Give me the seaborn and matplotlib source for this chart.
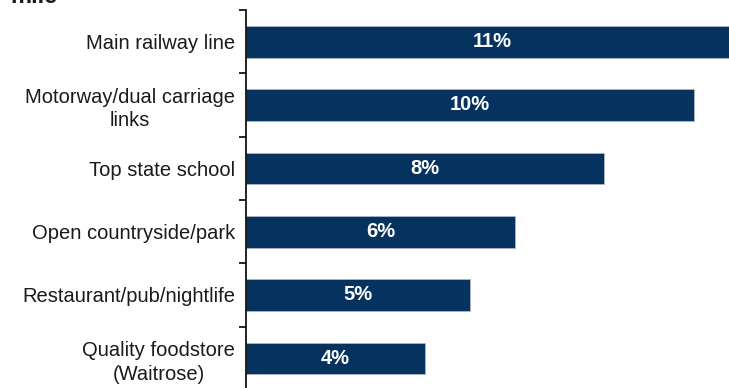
import matplotlib
matplotlib.use("Agg")
import matplotlib.pyplot as plt
import seaborn as sns
import pandas as pd
import numpy as np

categories = [
    "Main railway line",
    "Motorway/dual carriage\nlinks",
    "Top state school",
    "Open countryside/park",
    "Restaurant/pub/nightlife",
    "Quality foodstore\n(Waitrose)",
]
values = [11, 10, 8, 6, 5, 4]
value_labels = ["11%", "10%", "8%", "6%", "5%", "4%"]
title_fragment = "mile"

BAR_COLOR = "#06325f"

sns.set_theme(style="white")
plt.rcParams["font.family"] = ["Liberation Sans", "DejaVu Sans"]

W, H = 729, 388
fig = plt.figure(figsize=(W / 100, H / 100), dpi=100)
fig.patch.set_facecolor("white")

# axes: left spine at x=246 px, categories span y=10..390 px; the longest bar runs off the right edge
left_px, top_px, bottom_px = 246, 10, 390
px_per_unit = 44.8
xmax = (W - left_px) / px_per_unit
ax = fig.add_axes([left_px / W, (H - bottom_px) / H,
                   (W - left_px) / W, (bottom_px - top_px) / H])
ax.set_facecolor("white")

df = pd.DataFrame({"category": categories, "value": values})
sns.barplot(data=df, x="value", y="category", orient="h", color=BAR_COLOR,
            width=0.5, saturation=1, edgecolor="#a9b3bf", linewidth=0.7, ax=ax)

ax.set_xlim(0, xmax)
ax.set_ylim(len(categories) - 0.5, -0.5)
ax.set_xlabel("")
ax.set_ylabel("")
ax.set_xticks([])

for s in ["top", "right", "bottom"]:
    ax.spines[s].set_visible(False)
ax.spines["left"].set_color("black")
ax.spines["left"].set_linewidth(1.2)

# category labels at bar centres, tick marks at category boundaries
ax.set_yticks(np.arange(len(categories)))
ax.set_yticklabels(categories, fontsize=14.5, color="#1a1a1a",
                   multialignment="center", linespacing=1.3)
ax.tick_params(axis="y", which="major", length=0, pad=8)
ax.set_yticks(np.arange(len(categories) + 1) - 0.5, minor=True)
ax.tick_params(axis="y", which="minor", length=5, width=1.2, color="black",
               direction="out", left=True)

for i, (v, lab) in enumerate(zip(values, value_labels)):
    ax.text(v / 2, i, lab, ha="center", va="center", color="white",
            fontsize=14.5, fontweight="bold")

fig.text(10 / W, 1 - 3 / H, title_fragment, ha="left", va="baseline",
         fontsize=17, fontweight="bold", color="#1a1a1a")

fig.savefig("out.png", dpi=100, facecolor="white")
